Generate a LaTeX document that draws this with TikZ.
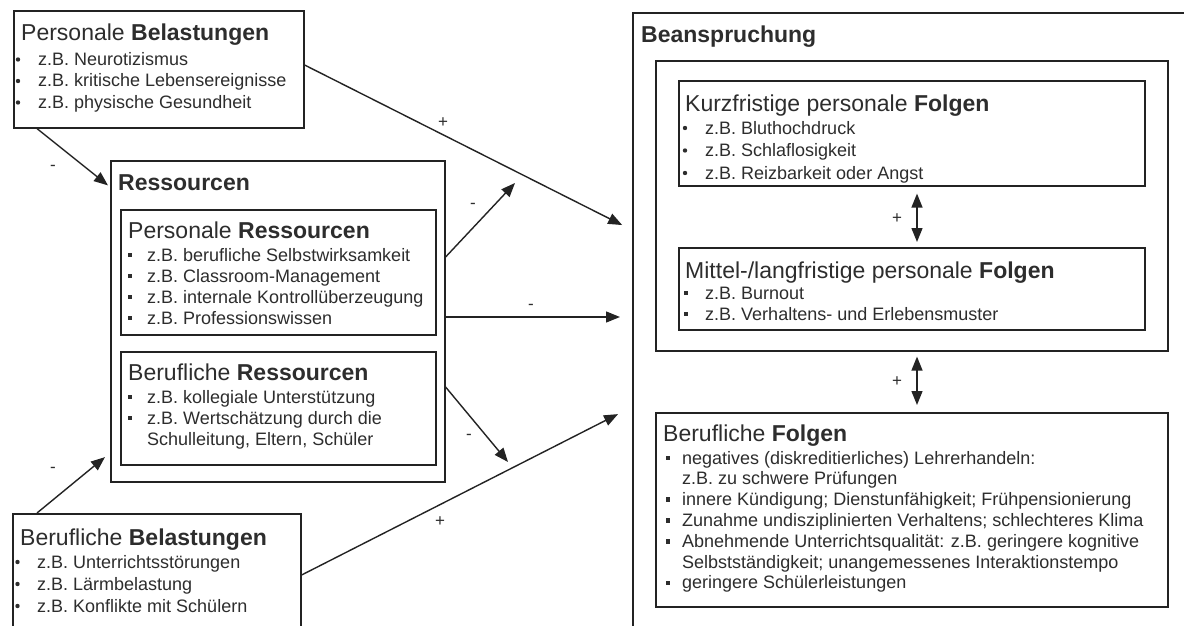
\documentclass[tikz,border=0pt]{standalone}
\usepackage{fontspec}
\setmainfont{Liberation Sans}
\usetikzlibrary{arrows.meta,calc}
\definecolor{ln}{RGB}{35,35,35}
\definecolor{tc}{RGB}{45,45,45}
\begin{document}
\begin{tikzpicture}[x=1pt,y=-1pt,
  box/.style={draw=ln,line width=1.6pt,rectangle,inner sep=0pt,anchor=north west},
  ttl/.style={anchor=base west,inner sep=0pt,text=tc,font=\fontsize{23}{27}\selectfont},
  hdr/.style={anchor=base west,inner sep=0pt,text=tc,font=\fontsize{23}{27}\selectfont\bfseries},
  itm/.style={anchor=base west,inner sep=0pt,text=tc,font=\fontsize{18}{21}\selectfont},
  sgn/.style={inner sep=0pt,text=tc,font=\fontsize{17}{18}\selectfont},
  arr/.style={draw=ln,line width=1.4pt,-{Triangle[length=14pt,width=11pt]}},
  darr/.style={draw=ln,line width=1.4pt,{Triangle[length=14pt,width=11pt]}-{Triangle[length=14pt,width=11pt]}},
]
\useasboundingbox (0,0) rectangle (1184,626);
\clip (0,0) rectangle (1184,626);
\fill[white] (0,0) rectangle (1184,626);

% ---------- Personale Belastungen
\node[box,minimum width=290pt,minimum height=117pt] (pb) at (13,10) {};
\node[ttl] (pbt) at (21,41) {Personale \textbf{Belastungen}};
\foreach \t [count=\i] in {{z.B. Neurotizismus},{z.B. kritische Lebensereignisse},{z.B. physische Gesundheit}}{
  \node[itm] (pb\i) at (38,{44+21.5*\i}) {\t};
  \fill[tc] (18,{38+21.5*\i}) circle (2.2pt);
}

% ---------- Ressourcen
\node[box,minimum width=334pt,minimum height=321pt] (res) at (110,160) {};
\node[hdr] (rest) at (118,190) {Ressourcen};

\node[box,minimum width=315pt,minimum height=125pt] (pr) at (120,209) {};
\node[ttl] (prt) at (128,238) {Personale \textbf{Ressourcen}};
\foreach \t [count=\i] in {{z.B. berufliche Selbstwirksamkeit},{z.B. Classroom-Management},{z.B. internale Kontrollüberzeugung},{z.B. Professionswissen}}{
  \node[itm] (pr\i) at (147,{240+21*\i}) {\t};
  \fill[tc] (127.7,{231.7+21*\i}) rectangle ++(4.6,4.6);
}

\node[box,minimum width=315pt,minimum height=113pt] (br) at (120,351) {};
\node[ttl] (brt) at (128,380) {Berufliche \textbf{Ressourcen}};
\node[itm] (br1) at (147,403) {z.B. kollegiale Unterstützung};
\node[itm] (br2) at (147,424) {z.B. Wertschätzung durch die};
\node[itm] (br3) at (147,445) {Schulleitung, Eltern, Schüler};
\fill[tc] (127.7,394.7) rectangle ++(4.6,4.6);
\fill[tc] (127.7,415.7) rectangle ++(4.6,4.6);

% ---------- Berufliche Belastungen
\node[box,minimum width=288pt,minimum height=140pt] (bb) at (12,513) {};
\node[ttl] (bbt) at (20,545) {Berufliche \textbf{Belastungen}};
\foreach \t [count=\i] in {{z.B. Unterrichtsstörungen},{z.B. Lärmbelastung},{z.B. Konflikte mit Schülern}}{
  \node[itm] (bb\i) at (37,{546+22*\i}) {\t};
  \fill[tc] (17.5,{540+22*\i}) circle (2.2pt);
}

% ---------- Beanspruchung
\node[box,minimum width=580pt,minimum height=660pt] (bean) at (632,12) {};
\node[hdr] (beant) at (641,43) {Beanspruchung};
\node[box,minimum width=512pt,minimum height=290pt] (inner) at (655,60) {};

\node[box,minimum width=466pt,minimum height=105pt] (kurz) at (678,80) {};
\node[ttl] (kurzt) at (685,111) {Kurzfristige personale \textbf{Folgen}};
\foreach \t [count=\i] in {{z.B. Bluthochdruck},{z.B. Schlaflosigkeit},{z.B. Reizbarkeit oder Angst}}{
  \node[itm] (kurz\i) at (705,{111.5+22.5*\i}) {\t};
  \fill[tc] (685,{105.5+22.5*\i}) circle (2.2pt);
}

\node[box,minimum width=466pt,minimum height=82pt] (mit) at (678,247) {};
\node[ttl] (mitt) at (685,278) {Mittel-/langfristige personale \textbf{Folgen}};
\foreach \t [count=\i] in {{z.B. Burnout},{z.B. Verhaltens- und Erlebensmuster}}{
  \node[itm] (mit\i) at (705,{278+21*\i}) {\t};
  \fill[tc] (683.7,{269.7+21*\i}) rectangle ++(4.6,4.6);
}

\node[box,minimum width=512pt,minimum height=194pt] (bf) at (655,412) {};
\node[ttl] (bft) at (663,441) {Berufliche \textbf{Folgen}};
\foreach \t [count=\i] in {{negatives (diskreditierliches) Lehrerhandeln:},{z.B. zu schwere Prüfungen},{innere Kündigung; Dienstunfähigkeit; Frühpensionierung},{Zunahme undisziplinierten Verhaltens; schlechteres Klima},{Abnehmende Unterrichtsqualität: z.B. geringere kognitive},{Selbstständigkeit; unangemessenes Interaktionstempo},{geringere Schülerleistungen}}{
  \node[itm] (bf\i) at (682,{443.2+20.8*\i}) {\t};
}
\foreach \i in {1,3,4,5,7}{
  \fill[tc] (665.7,{434.9+20.8*\i}) rectangle ++(4.6,4.6);
}

% ---------- connectors
\coordinate (f1) at (515,183);
\coordinate (f2) at (508,462);
\draw[arr,shorten >=2.6pt] (37,0 |- pb.south) -- (res.west |- 0,187);
\draw[arr,shorten >=6.5pt] (37,0 |- bb.north) -- (res.west |- 0,453);
\draw[arr,shorten >=11pt] (pb.east |- 0,65) -- (bean.west |- 0,230);
\draw[arr] (res.east |- 0,257) -- (f1);
\draw[arr,shorten >=12pt] (res.east |- 0,317) -- (bean.west |- 0,317);
\draw[arr] (res.east |- 0,387) -- (f2);
\draw[arr,shorten >=15.7pt] (bb.east |- 0,575) -- (bean.west |- 0,407);
\draw[darr,shorten <=7pt,shorten >=5pt] (917,0 |- kurz.south) -- (917,0 |- mit.north);
\draw[darr,shorten <=5pt,shorten >=7pt] (917,0 |- inner.south) -- (917,0 |- bf.north);

% ---------- signs
\node[sgn] (s1) at (53,168) {-};
\node[sgn] (s2) at (53,470) {-};
\node[sgn] (s3) at (443,123) {+};
\node[sgn] (s4) at (473,206) {-};
\node[sgn] (s5) at (531,307) {-};
\node[sgn] (s6) at (469,437) {-};
\node[sgn] (s7) at (440,522) {+};
\node[sgn] (s8) at (897,219) {+};
\node[sgn] (s9) at (897,382) {+};
\end{tikzpicture}
\end{document}
